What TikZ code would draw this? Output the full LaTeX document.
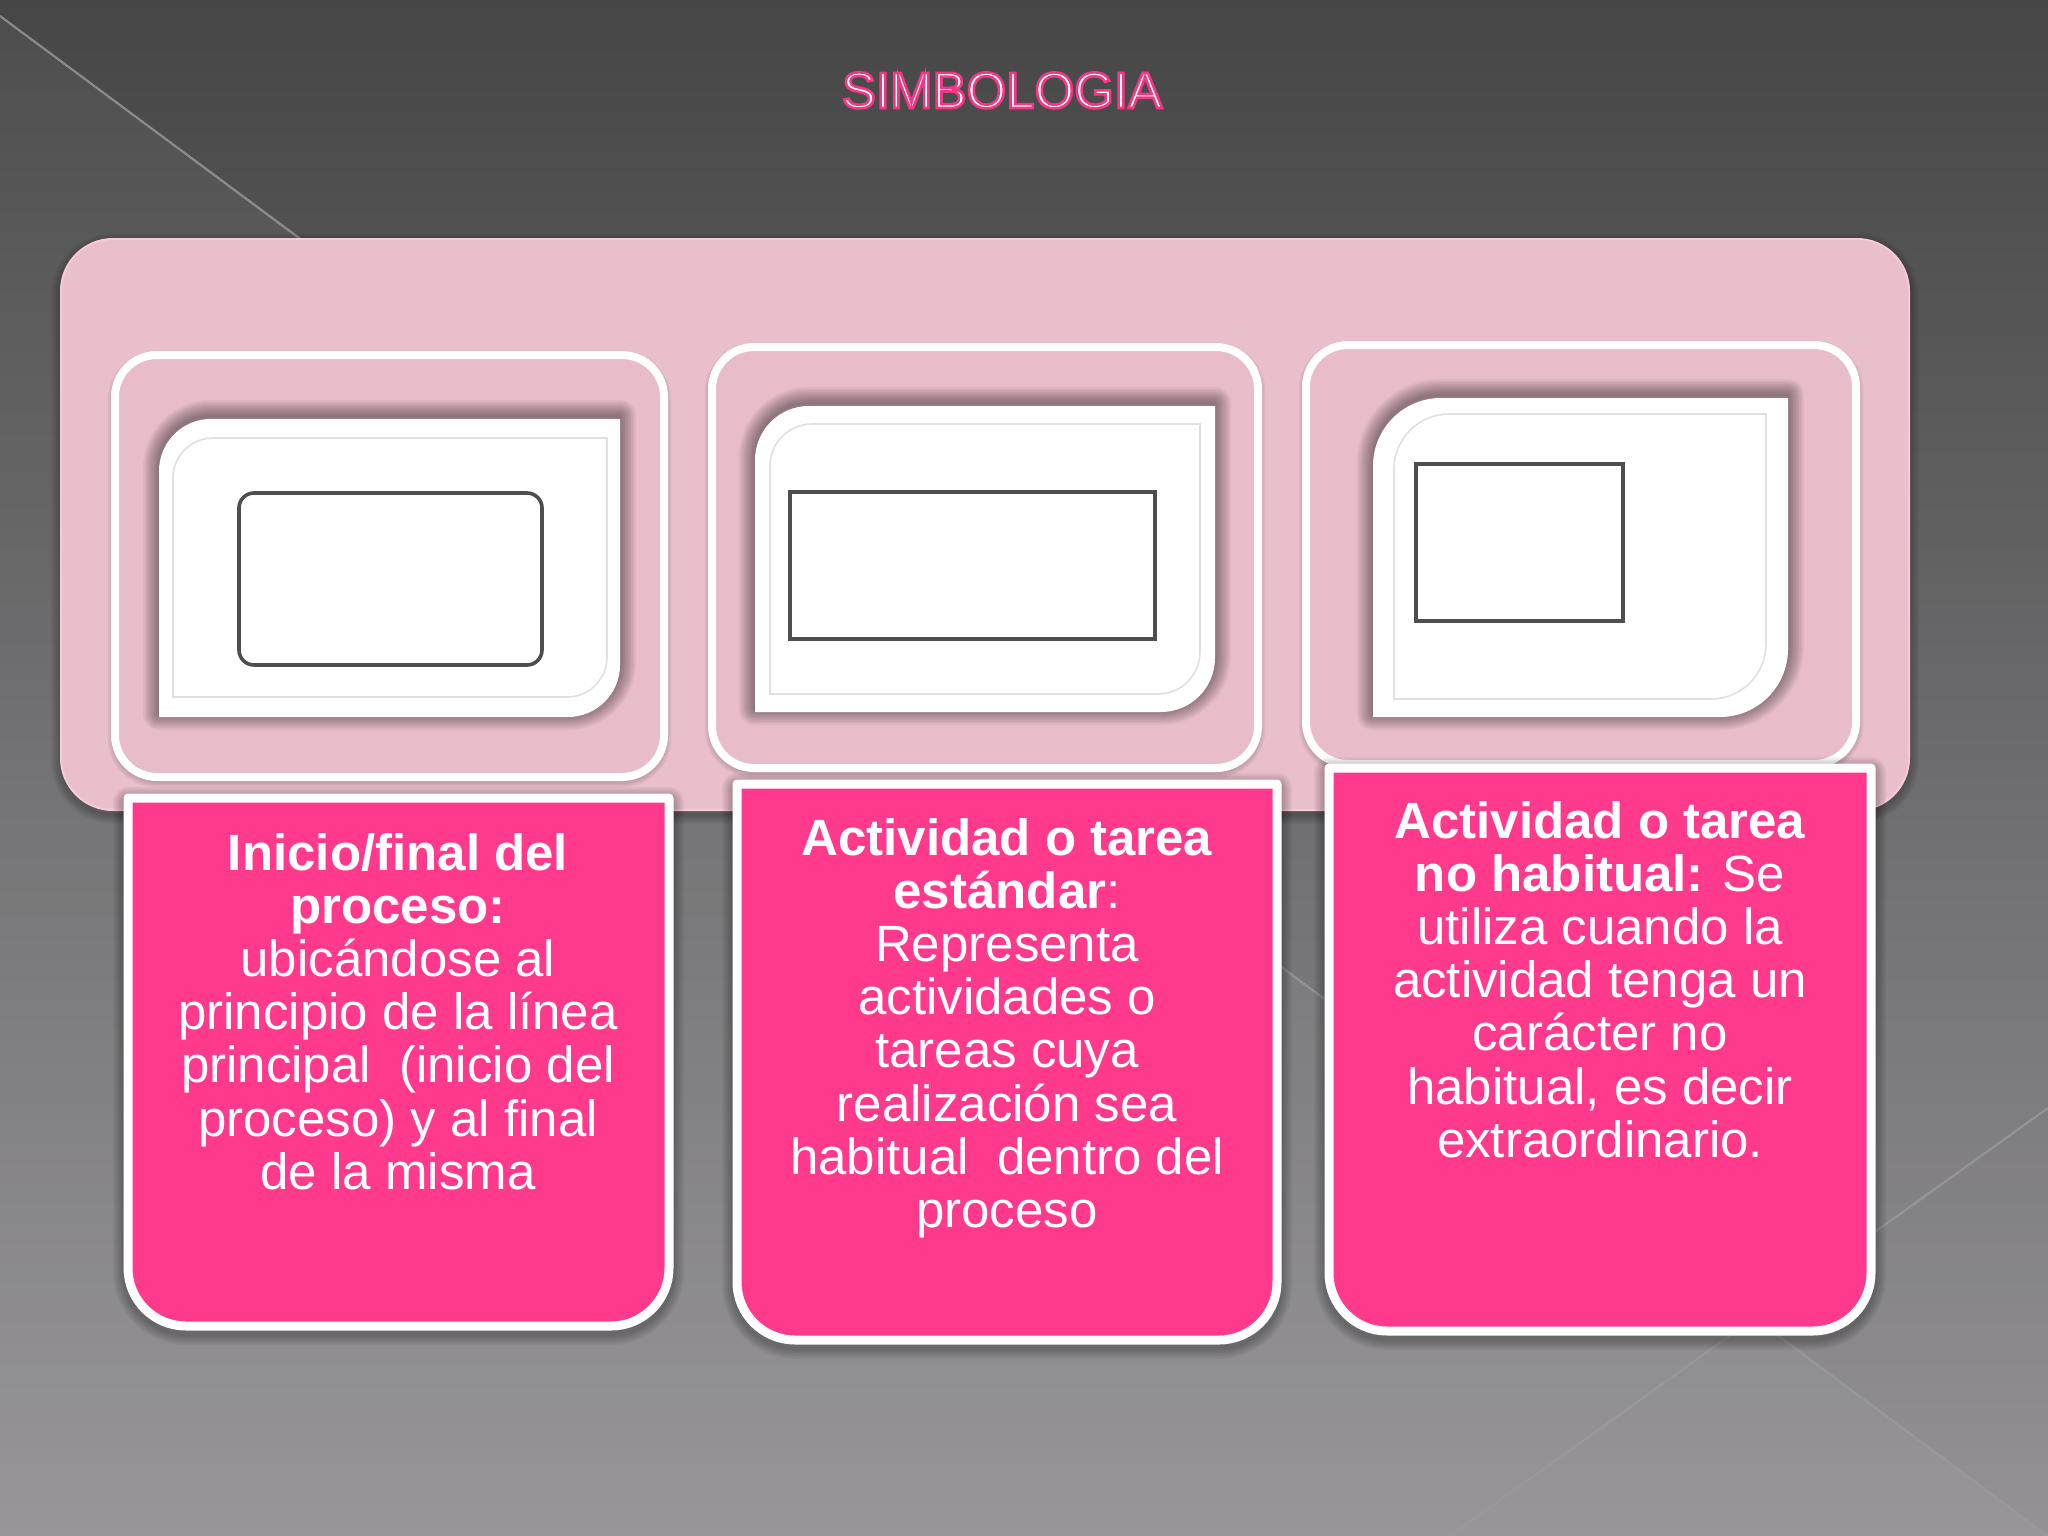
\documentclass[tikz,border=0pt]{standalone}
\usepackage{fontspec}
\setmainfont{Liberation Sans}
\definecolor{bgtop}{HTML}{464646}
\definecolor{bgbot}{HTML}{949296}
\definecolor{panelpink}{HTML}{E9BFCB}
\definecolor{paneledge}{HTML}{F7CAD7}
\definecolor{framepink}{HTML}{E8BDC9}
\definecolor{hotpink}{HTML}{FF3A8C}
\definecolor{symline}{HTML}{4E4E4E}
\definecolor{bgline}{HTML}{9A9A9A}
% outlined text: white fill, pink stroke
\newcommand\outlined[1]{\special{pdf:literal direct 2 Tr 2.6 w 0.95 0.22 0.52 RG}#1\special{pdf:literal direct 0 Tr 1 w}}
% leaf shape: rounded top-left and bottom-right corners
\newcommand\leafpath[5]{(#1,#4) -- (#1,{#2+#5}) .. controls (#1,{#2+0.448*#5}) and ({#1+0.448*#5},#2) .. ({#1+#5},#2) -- (#3,#2) -- (#3,{#4-#5}) .. controls (#3,{#4-0.448*#5}) and ({#3-0.448*#5},#4) .. ({#3-#5},#4) -- cycle}
% box with rounded bottom corners
\newcommand\botpath[5]{(#1,#2) -- (#3,#2) -- (#3,{#4-#5}) .. controls (#3,{#4-0.448*#5}) and ({#3-0.448*#5},#4) .. ({#3-#5},#4) -- ({#1+#5},#4) .. controls ({#1+0.448*#5},#4) and (#1,{#4-0.448*#5}) .. (#1,{#4-#5}) -- cycle}
\tikzset{
  txt/.style={text=white, align=center, inner sep=0pt, font=\fontsize{51}{53.2}\selectfont},
  frame/.style={draw=white, line width=8pt, fill=framepink, rounded corners=42pt},
  leaffill/.style={fill=white},
  innerline/.style={draw=black!12, line width=1.6pt},
  symbol/.style={draw=symline, line width=3.6pt, fill=white},
  textbox/.style={draw=white, line width=9pt, fill=hotpink, line join=round},
}
\begin{document}
\begin{tikzpicture}[x=1pt,y=-1pt]
\useasboundingbox (0,0) rectangle (2048,1536);
% background
\shade[top color=bgtop, bottom color=bgbot] (0,0) rectangle (2048,1536);
\fill[white, opacity=0.045] (0,16) -- (2048,1536) -- (0,1536) -- cycle;
\draw[bgline, line width=2.2pt, opacity=0.8] (0,16) -- (2048,1536);
\draw[bgline, line width=2.2pt, opacity=0.8] (2048,1108) -- (1450,1536);

% title
\node[anchor=base, inner sep=0pt, text=white, font=\fontsize{51}{60}\selectfont] (title) at (1002,108) {\outlined{SIMBOLOGIA}};

% big pink panel
\foreach \i in {1,...,8}
  \draw[black, opacity=0.03, line width=\i*2.5pt, rounded corners=52pt] (61,243) rectangle (1909,814);
\fill[panelpink, rounded corners=52pt] (61,239) rectangle (1909,810);
\draw[paneledge, line width=2pt, rounded corners=52pt] (61,239) rectangle (1909,810);

% frames
\foreach \xa/\ya/\xb/\yb in {115/355/664/777, 712/347/1258/768, 1306/345/1856/764}{
  \foreach \i in {1,...,6}
    \draw[black, opacity=0.035, line width=\i*2.5pt, rounded corners=42pt] (\xa,\ya+3) rectangle (\xb,\yb+3);
  \draw[frame] (\xa,\ya) rectangle (\xb,\yb);
}

% leaf shapes with shadows
\foreach \xa/\ya/\xb/\yb/\r in {159/419/620/717/52, 755/406/1215/712/54, 1373/398/1788/717/68}{
  \foreach \i in {1,...,10}
    \draw[black, opacity=0.045, line width=\i*3.2pt, line join=round] \leafpath{\xa}{\ya-3}{\xb}{\yb-3}{\r};
  \fill[leaffill] \leafpath{\xa}{\ya}{\xb}{\yb}{\r};
}
% thin inner outlines
\draw[innerline] \leafpath{173}{438}{607}{697}{40};
\draw[innerline] \leafpath{770}{424}{1200}{694}{42};
\draw[innerline] \leafpath{1394}{414}{1766}{699}{55};

% symbols
\draw[symbol, rounded corners=15pt] (239,493) rectangle (542,665);
\draw[symbol] (790,492) rectangle (1155,639);
\draw[symbol] (1416,464) rectangle (1623,621);

% pink text boxes
\foreach \xa/\ya/\xb/\yb in {128/798/669/1326, 737/784/1277/1340, 1329/768/1871/1331}{
  \foreach \i in {1,...,7}
    \draw[black, opacity=0.04, line width=9pt+\i*3pt, line join=round] \botpath{\xa}{\ya+4}{\xb}{\yb+4}{58};
  \draw[textbox] \botpath{\xa}{\ya}{\xb}{\yb}{58};
}

% texts
\node[txt, anchor=north] (t1) at (398,833) {\textbf{Inicio/final del}\\\textbf{proceso:}\\ubicándose al\\principio de la línea\\principal\ \ (inicio del\\proceso) y al final\\de la misma};
\node[txt, anchor=north] (t2) at (1007,818) {\textbf{Actividad o tarea}\\\textbf{estándar}:\\Representa\\actividades o\\tareas cuya\\realización sea\\habitual\ \ dentro del\\proceso};
\node[txt, anchor=north] (t3) at (1600,801) {\textbf{Actividad o tarea}\\\textbf{no habitual:} Se\\utiliza cuando la\\actividad tenga un\\carácter no\\habitual, es decir\\extraordinario.};
\end{tikzpicture}
\end{document}
